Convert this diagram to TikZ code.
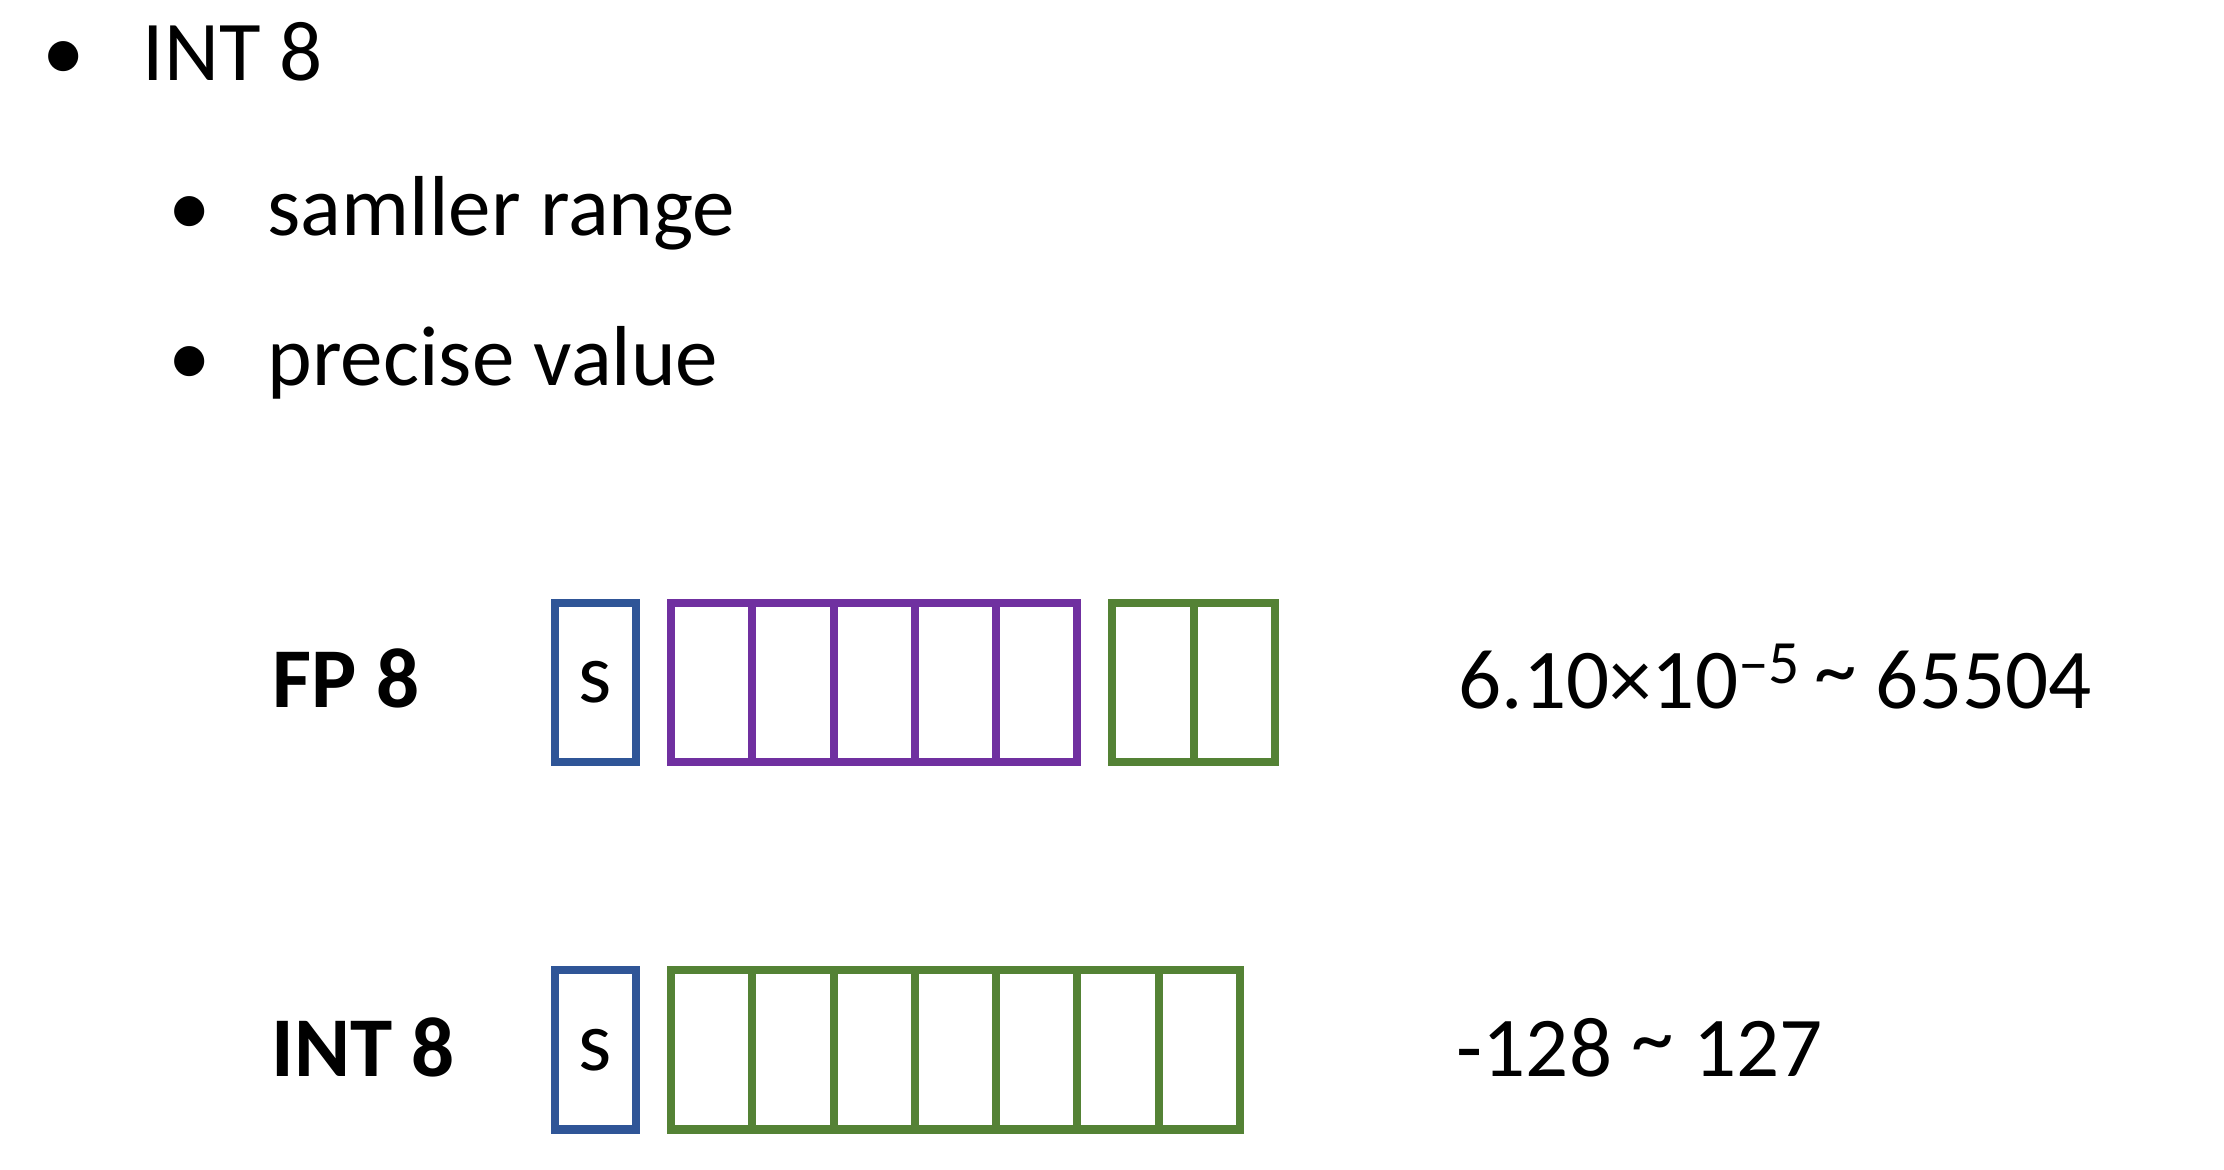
\documentclass[tikz,border=0pt]{standalone}
\usepackage{fontspec}
\setmainfont{Carlito}
\usepackage{tikz}
\usetikzlibrary{positioning}
\definecolor{signblue}{HTML}{2F5597}
\definecolor{exppurple}{HTML}{7030A0}
\definecolor{mantgreen}{HTML}{548235}
\newcommand{\smallsup}[1]{\raisebox{0.3em}{\fontsize{17.5}{20}\selectfont #1}}
\newcommand{\hightilde}{\raisebox{0.12em}{\textasciitilde}}

\begin{document}
\begin{tikzpicture}[x=0.01cm,y=0.01cm,
	every node/.style={font=\fontsize{24.2}{29}\selectfont},
	txt/.style={anchor=base west, inner sep=0pt},
	dot/.style={anchor=base, inner sep=0pt},
	cell/.style={draw, line width=2.3pt, minimum width=0.812cm, minimum height=1.59cm, inner sep=0pt, outer sep=0pt},
	signcell/.style={cell, draw=signblue},
	expcell/.style={cell, draw=exppurple},
	mantcell/.style={cell, draw=mantgreen}]
	\useasboundingbox (0,0) rectangle (2224,1170);
	% bullet list
	\node[dot] (b1) at (63.5,1089) {•};
	\node[txt] (head) at (142,1089) {INT 8};
	\node[dot] (b2) at (190,934) {•};
	\node[txt] (range) at (267,934) {samller range};
	\node[dot] (b3) at (190,784) {•};
	\node[txt] (prec) at (267,784) {precise value};
	% FP 8 row
	\node[txt] (fplabel) at (272,462) {\textbf{FP 8}};
	\node[signcell] (fps) at (595.5,487.5) {s};
	\node[expcell, right=0.35cm of fps] (fpe1) {};
	\foreach \i [evaluate=\i as \j using int(\i-1)] in {2,...,5}
		\node[expcell, right=0pt of fpe\j] (fpe\i) {};
	\node[mantcell, right=0.35cm of fpe5] (fpm1) {};
	\node[mantcell, right=0pt of fpm1] (fpm2) {};
	\node[txt] (fprange) at (1458,461) {6.10×10\smallsup{–5}\,\hightilde{} 65504};
	% INT 8 row
	\node[txt] (intlabel) at (271,93) {\textbf{INT 8}};
	\node[signcell] (ints) at (595.5,120) {s};
	\node[mantcell, right=0.35cm of ints] (intm1) {};
	\foreach \i [evaluate=\i as \j using int(\i-1)] in {2,...,7}
		\node[mantcell, right=0pt of intm\j] (intm\i) {};
	\node[txt] (intrange) at (1456,93) {-128 \hightilde{} 127};
\end{tikzpicture}
\end{document}
